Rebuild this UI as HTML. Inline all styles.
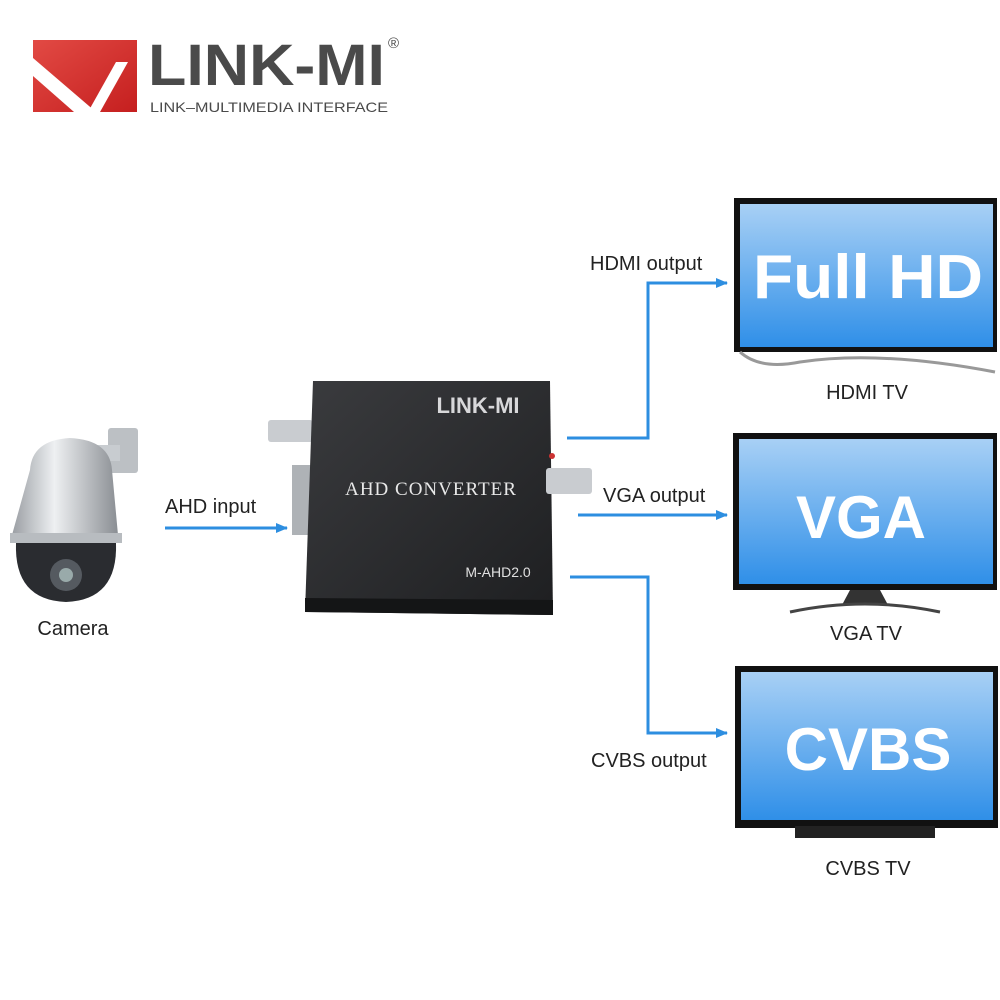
<!DOCTYPE html>
<html><head><style>
body{margin:0;background:#fff}
svg{display:block}
text{font-family:"Liberation Sans",sans-serif}
</style></head><body>
<svg width="1000" height="1000" viewBox="0 0 1000 1000" xmlns="http://www.w3.org/2000/svg">
<defs>
<linearGradient id="scr" x1="0" y1="0" x2="0" y2="1"><stop offset="0" stop-color="#a8d0f5"/><stop offset="1" stop-color="#2f8fe8"/></linearGradient>
<linearGradient id="box" x1="0" y1="0" x2="1" y2="1"><stop offset="0" stop-color="#3a3b3e"/><stop offset="1" stop-color="#1e1f21"/></linearGradient>
<linearGradient id="cam" x1="0" y1="0" x2="1" y2="0"><stop offset="0" stop-color="#9a9ea3"/><stop offset="0.4" stop-color="#eef0f2"/><stop offset="1" stop-color="#8a8e93"/></linearGradient>
<linearGradient id="red" x1="0" y1="0" x2="1" y2="1"><stop offset="0" stop-color="#e24a44"/><stop offset="1" stop-color="#c51f1f"/></linearGradient>
<marker id="ar" markerWidth="12" markerHeight="10" refX="11" refY="5" orient="auto" markerUnits="userSpaceOnUse"><path d="M0,0 L12,5 L0,10 Z" fill="#2d8ee0"/></marker>
</defs>
<!-- logo -->
<rect x="33" y="40" width="104" height="72" fill="url(#red)"/>
<polygon points="33,58 33,76 74,112 96,112" fill="#fff"/>
<polygon points="88,112 100,112 128,62 116,62" fill="#fff"/>
<text x="148" y="85" font-size="58" font-weight="bold" fill="#4a4a4a" textLength="237" lengthAdjust="spacingAndGlyphs">LINK-MI</text>
<text x="388" y="48" font-size="15" fill="#4a4a4a">®</text>
<text x="150" y="112" font-size="14" fill="#4a4a4a" textLength="238" lengthAdjust="spacingAndGlyphs">LINK–MULTIMEDIA INTERFACE</text>
<!-- camera -->
<rect x="108" y="428" width="30" height="45" rx="3" fill="#bcc0c4"/>
<rect x="60" y="445" width="60" height="16" fill="#c8ccd0"/>
<path d="M30,470 Q32,440 70,438 Q110,440 112,470 L118,535 L12,535 Z" fill="url(#cam)"/>
<rect x="10" y="533" width="112" height="10" fill="#b8bcc0"/>
<path d="M16,543 L116,543 Q118,600 66,602 Q14,600 16,543 Z" fill="#2a2c30"/>
<circle cx="66" cy="575" r="16" fill="#555a60"/><circle cx="66" cy="575" r="7" fill="#9aa"/>
<text x="73" y="635" font-size="20" text-anchor="middle" fill="#222">Camera</text>
<!-- AHD arrow -->
<line x1="165" y1="528" x2="287" y2="528" stroke="#2d8ee0" stroke-width="3" marker-end="url(#ar)"/>
<text x="165" y="513" font-size="20" fill="#222">AHD input</text>
<!-- device -->
<rect x="268" y="420" width="45" height="22" rx="3" fill="#c9ccd0"/>
<rect x="292" y="465" width="22" height="70" fill="#aeb2b6"/>
<polygon points="313,381 550,381 553,615 305,612" fill="url(#box)"/>
<polygon points="305,598 553,600 553,615 305,612" fill="#141516"/>
<rect x="546" y="468" width="46" height="26" rx="3" fill="#c9ccd0"/>
<circle cx="552" cy="456" r="3" fill="#c33"/>
<text x="478" y="413" font-size="22" font-weight="bold" fill="#d8d8da" text-anchor="middle">LINK-MI</text>
<text x="431" y="495" font-size="19" fill="#e8e8e8" text-anchor="middle" letter-spacing="1" style="font-family:'Liberation Serif',serif">AHD CONVERTER</text>
<text x="498" y="577" font-size="14" fill="#e0e0e0" text-anchor="middle">M-AHD2.0</text>
<!-- connectors -->
<g stroke="#2d8ee0" stroke-width="3" fill="none">
<polyline points="567,438 648,438 648,283 727,283" marker-end="url(#ar)"/>
<line x1="578" y1="515" x2="727" y2="515" marker-end="url(#ar)"/>
<polyline points="570,577 648,577 648,733 727,733" marker-end="url(#ar)"/>
</g>
<text x="590" y="270" font-size="20" fill="#222">HDMI output</text>
<text x="603" y="502" font-size="20" fill="#222">VGA output</text>
<text x="591" y="767" font-size="20" fill="#222">CVBS output</text>
<!-- TV1 -->
<rect x="734" y="198" width="263" height="154" fill="#111"/>
<rect x="740" y="204" width="253" height="143" fill="url(#scr)"/>
<path d="M740,352 Q760,370 800,362 Q880,350 995,372" stroke="#999" stroke-width="3" fill="none"/>
<text x="753" y="298" font-size="62" font-weight="bold" fill="#fff" textLength="230" lengthAdjust="spacingAndGlyphs">Full HD</text>
<text x="867" y="399" font-size="20" fill="#222" text-anchor="middle">HDMI TV</text>
<!-- TV2 -->
<rect x="733" y="433" width="264" height="157" fill="#111"/>
<rect x="739" y="439" width="254" height="145" fill="url(#scr)"/>
<polygon points="850,590 880,590 888,605 842,605" fill="#333"/>
<path d="M790,612 Q865,596 940,612" stroke="#444" stroke-width="3" fill="none"/>
<text x="861" y="538" font-size="60" font-weight="bold" fill="#fff" text-anchor="middle">VGA</text>
<text x="866" y="640" font-size="20" fill="#222" text-anchor="middle">VGA TV</text>
<!-- TV3 -->
<rect x="735" y="666" width="263" height="162" fill="#111"/>
<rect x="741" y="672" width="252" height="148" fill="url(#scr)"/>
<rect x="795" y="826" width="140" height="12" fill="#222"/>
<text x="868" y="770" font-size="60" font-weight="bold" fill="#fff" text-anchor="middle">CVBS</text>
<text x="868" y="875" font-size="20" fill="#222" text-anchor="middle">CVBS TV</text>
</svg>
</body></html>
